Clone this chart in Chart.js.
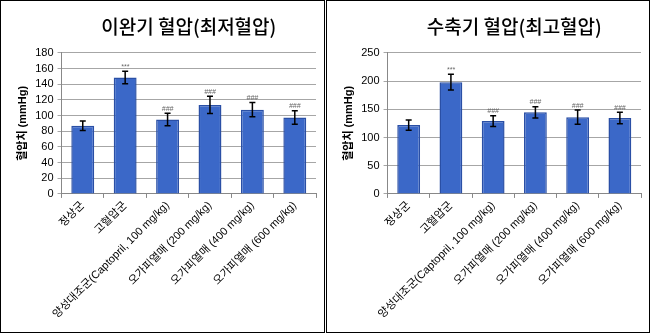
<!DOCTYPE html>
<html>
<head>
<meta charset="utf-8">
<script src="https://cdn.jsdelivr.net/npm/chart.js@4"></script>
<style>
  body { margin: 0; background: #fff; }
  .panel { position: absolute; top: 0; height: 331px; border: 1px solid #000; }
  #p1 { left: 0; width: 323px; }
  #p2 { left: 326px; width: 322px; }
</style>
</head>
<body>
<div class="panel" id="p1"><canvas id="c1"></canvas></div>
<div class="panel" id="p2"><canvas id="c2"></canvas></div>
<script>
// =========================
// Datos
// =========================
const categories = ['정상군', '고혈압군', '양성대조군(Captopril, 100 mg/kg)', '오가피열매 (200 mg/kg)', '오가피열매 (400 mg/kg)', '오가피열매 (600 mg/kg)'];
const diastolic = [87, 148.5, 95, 113.5, 107.5, 97.5];
const diastolicErr = [6, 8, 8, 11, 9, 8.5];
const systolic = [122, 198, 129, 144.5, 136, 134.5];
const systolicErr = [9, 14, 9.5, 10, 12.5, 10];
const marks = ['', '***', '###', '###', '###', '###'];

const FONT = "'Liberation Sans', 'Noto Sans CJK KR', sans-serif";

// =========================
// Barras de error + marcas de significancia
// =========================
const errorBars = {
    id: 'errorBars',
    afterDatasetsDraw(chart, args, opts) {
        const ctx = chart.ctx;
        const y = chart.scales.y;
        const meta = chart.getDatasetMeta(0);
        const vals = chart.data.datasets[0].data;
        ctx.save();
        meta.data.forEach((bar, i) => {
            const top = y.getPixelForValue(vals[i] + opts.err[i]);
            const bot = y.getPixelForValue(vals[i] - opts.err[i]);
            ctx.strokeStyle = '#000';
            ctx.lineWidth = 1.5;
            ctx.beginPath();
            ctx.moveTo(bar.x, top); ctx.lineTo(bar.x, bot);
            ctx.moveTo(bar.x - 3, top); ctx.lineTo(bar.x + 3, top);
            ctx.moveTo(bar.x - 3, bot); ctx.lineTo(bar.x + 3, bot);
            ctx.stroke();
            if (marks[i]) {
                ctx.fillStyle = '#666';
                ctx.font = 'italic 7px ' + FONT;
                ctx.textAlign = 'center';
                ctx.textBaseline = 'bottom';
                ctx.fillText(marks[i], bar.x, top - 1);
            }
        });
        ctx.restore();
    }
};

function makeChart(id, title, values, errs, max, step) {
    return new Chart(document.getElementById(id), {
        type: 'bar',
        data: {
            labels: categories,
            datasets: [{
                data: values,
                backgroundColor: '#3b68c8',
                borderColor: '#2a4fa5',
                borderWidth: 1.5,
                categoryPercentage: 1,
                barPercentage: 0.54
            }]
        },
        options: {
            responsive: true,
            maintainAspectRatio: false,
            animation: false,
            layout: { padding: { left: 13, right: 8, top: 2, bottom: 10 } },
            plugins: {
                legend: { display: false },
                tooltip: { enabled: false },
                title: {
                    display: true,
                    text: title,
                    fullSize: false,
                    color: '#000',
                    font: { family: "'Noto Sans CJK KR', sans-serif", size: 19, weight: '500' },
                    padding: { top: 12, bottom: 15 }
                },
                errorBars: { err: errs }
            },
            scales: {
                x: {
                    offset: true,
                    grid: { display: true, drawOnChartArea: false, offset: true, tickLength: 4, color: '#888' },
                    border: { color: '#888' },
                    ticks: {
                        autoSkip: false,
                        minRotation: 45,
                        maxRotation: 45,
                        color: '#000',
                        padding: 1,
                        font: { family: FONT, size: 11 }
                    }
                },
                y: {
                    min: 0,
                    max: max,
                    ticks: {
                        stepSize: step,
                        autoSkip: false,
                        color: '#000',
                        padding: 4,
                        font: { family: FONT, size: 11 }
                    },
                    grid: { color: '#a6a6a6', lineWidth: 1, tickLength: 4 },
                    border: { color: '#888' },
                    title: {
                        display: true,
                        text: '혈압치 (mmHg)',
                        color: '#000',
                        font: { family: FONT, size: 11, weight: 'bold' },
                        padding: 2
                    }
                }
            }
        },
        plugins: [errorBars]
    });
}

makeChart('c1', '이완기 혈압(최저혈압)', diastolic, diastolicErr, 180, 20);
makeChart('c2', '수축기 혈압(최고혈압)', systolic, systolicErr, 250, 50);
</script>
</body>
</html>
